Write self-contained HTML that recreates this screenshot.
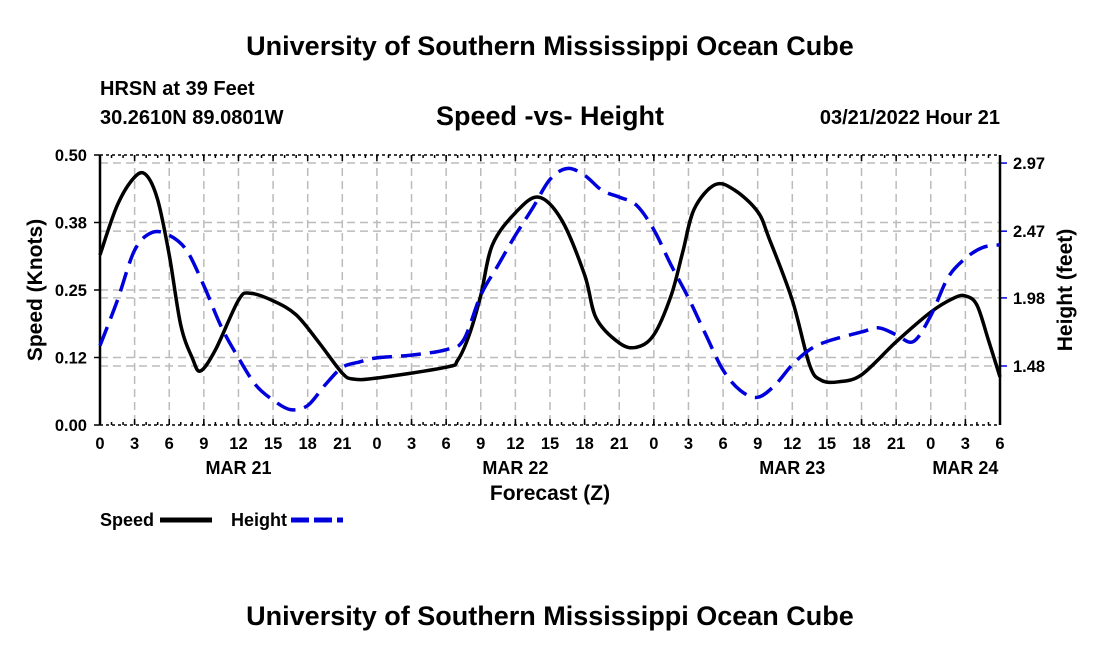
<!DOCTYPE html>
<html><head><meta charset="utf-8"><style>
body{margin:0;background:#fff;font-family:"Liberation Sans",sans-serif}
svg text{font-family:"Liberation Sans",sans-serif;font-weight:bold}
</style></head><body>
<svg id="c" width="1100" height="650" xmlns="http://www.w3.org/2000/svg">
<text x="550" y="55" font-size="27" text-anchor="middle">University of Southern Mississippi Ocean Cube</text>
<text x="100" y="95" font-size="20">HRSN at 39 Feet</text>
<text x="100" y="124" font-size="20">30.2610N  89.0801W</text>
<text x="550" y="125" font-size="27" text-anchor="middle">Speed -vs- Height</text>
<text x="1000" y="124" font-size="20" text-anchor="end">03/21/2022 Hour 21</text>
<g id="grid"></g><g id="axes"></g><g id="series"></g>
<text transform="translate(42,290) rotate(-90)" font-size="21" text-anchor="middle">Speed (Knots)</text>
<text transform="translate(1072,290) rotate(-90)" font-size="21" text-anchor="middle">Height (feet)</text>
<text x="550" y="500" font-size="21" text-anchor="middle">Forecast (Z)</text>
<g>
<text x="100" y="526" font-size="18">Speed</text>
<line x1="160" y1="520" x2="212" y2="520" stroke="#000" stroke-width="5"/>
<text x="231" y="526" font-size="18">Height</text>
<line x1="291" y1="520" x2="343" y2="520" stroke="#0000dd" stroke-width="5" stroke-dasharray="18,5"/>
</g>
<text x="550" y="625" font-size="27" text-anchor="middle">University of Southern Mississippi Ocean Cube</text>
</svg>
<script>
const speedHours=[0,1.5,3,4,5,6,7,8,8.7,10,12,13,15,17,19,21,22,24,30,31,32,33,34,36,38,40,42,43,45,46.5,48,49.5,50.5,51.5,53.3,55,57,58,60,61.5,62.5,64,66,69,72,74,75,76,77,78];
const speedValues=[0.315,0.407,0.459,0.463,0.417,0.315,0.185,0.124,0.10,0.139,0.231,0.244,0.23,0.204,0.152,0.096,0.085,0.087,0.107,0.12,0.167,0.24,0.333,0.393,0.422,0.38,0.278,0.198,0.152,0.144,0.167,0.24,0.32,0.4,0.445,0.435,0.395,0.345,0.231,0.111,0.083,0.08,0.093,0.154,0.209,0.235,0.239,0.222,0.157,0.089];
const heightHours=[0,1.5,3,4.5,6,7.5,9,10.5,12,13.5,15,16.5,18,19.5,21,22.5,24,27,30,31.5,33,34.5,36,37.5,39,40.5,42,43.5,45,46.5,48,49.5,51,52.5,54,55.5,57,58.5,60,61.5,63,66,67.5,69,70.5,72,73.5,75,76.5,78];
const heightValues=[1.63,1.96,2.33,2.46,2.44,2.33,2.07,1.77,1.54,1.34,1.23,1.16,1.19,1.34,1.47,1.51,1.54,1.56,1.60,1.67,2.0,2.22,2.44,2.64,2.85,2.93,2.88,2.77,2.72,2.66,2.48,2.22,1.98,1.71,1.45,1.30,1.25,1.34,1.49,1.60,1.66,1.73,1.76,1.71,1.66,1.85,2.13,2.27,2.35,2.37];
const speedTicks=[0,0.125,0.25,0.375,0.5];
const speedTickLabels=["0.00","0.12","0.25","0.38","0.50"];
const heightTicks=[1.48,1.98,2.47,2.97];
const xTickLabels=["0","3","6","9","12","15","18","21","0","3","6","9","12","15","18","21","0","3","6","9","12","15","18","21","0","3","6"];
const dayLabels=["MAR 21","MAR 22","MAR 23","MAR 24"];
const dayHours=[12,36,60,75];
const X0=100,X1=1000,Y0=425,Y1=155;
const xs=h=>X0+(X1-X0)*h/78;
const ys=v=>Y0-(Y0-Y1)*v/0.5;
const yh=v=>366-(v-1.48)*136.2;
const NS="http://www.w3.org/2000/svg";
function mk(p,t,a){const e=document.createElementNS(NS,t);for(const k in a)e.setAttribute(k,a[k]);p.appendChild(e);return e;}
const grid=document.getElementById('grid'),axes=document.getElementById('axes'),ser=document.getElementById('series');
xTickLabels.forEach((l,i)=>{const x=xs(i*3);
 if(i>0&&i<26){const g=mk(grid,'line',{x1:x,x2:x,y1:Y1,y2:Y0,stroke:'#bbb','stroke-width':1.5,'stroke-dasharray':'8,5'});
 
 }
 const t=mk(axes,'text',{x:x,y:449,'font-size':16.5,'text-anchor':'middle'});t.textContent=l;
 
 
 mk(axes,'line',{x1:x,x2:x,y1:Y0,y2:Y0-6,stroke:'#000','stroke-width':1.5});
 mk(axes,'line',{x1:x,x2:x,y1:Y1,y2:Y1+6,stroke:'#000','stroke-width':1.5});});
dayLabels.forEach((l,i)=>{const t=mk(axes,'text',{x:xs(dayHours[i]),y:474,'font-size':18,'text-anchor':'middle'});t.textContent=l;
 
 });
speedTicks.forEach((v,i)=>{const y=ys(v);
 if(i>0&&i<4){const g=mk(grid,'line',{x1:X0,x2:X1,y1:y,y2:y,stroke:'#bbb','stroke-width':1.5,'stroke-dasharray':'8,5'});
 
 }
 mk(axes,'line',{x1:X0-6,x2:X0,y1:y,y2:y,stroke:'#000','stroke-width':1.5});
 const t=mk(axes,'text',{x:87,y:y+6,'font-size':16.5,'text-anchor':'end'});t.textContent=speedTickLabels[i];
 
 });
heightTicks.forEach(v=>{const y=yh(v);
 const g=mk(grid,'line',{x1:X0,x2:X1,y1:y,y2:y,stroke:'#bbb','stroke-width':1.5,'stroke-dasharray':'8,5'});
 
 
 mk(axes,'line',{x1:X1,x2:X1+7,y1:y,y2:y,stroke:'#0000dd','stroke-width':1.5});
 const t=mk(axes,'text',{x:1013,y:y+6,'font-size':16.5});t.textContent=v.toFixed(2);
 
 });
for(let h=0;h<=78;h++){mk(axes,'line',{x1:xs(h),x2:xs(h),y1:Y0,y2:Y0-3,stroke:'#000','stroke-width':1.5});mk(axes,'line',{x1:xs(h),x2:xs(h),y1:Y1,y2:Y1+3,stroke:'#000','stroke-width':1.5});}
mk(axes,'line',{x1:X0,x2:X1,y1:Y0,y2:Y0,stroke:'#000','stroke-width':1.5,'stroke-dasharray':'3,3'});
mk(axes,'line',{x1:X0,x2:X1,y1:Y1,y2:Y1,stroke:'#000','stroke-width':1.5,'stroke-dasharray':'3,3'});
mk(axes,'line',{x1:X0,x2:X0,y1:Y1,y2:Y0,stroke:'#000','stroke-width':2.5});
mk(axes,'line',{x1:X1,x2:X1,y1:Y1,y2:Y0,stroke:'#000','stroke-width':2.5});
function path(px){let d=`M${px[0][0]},${px[0][1]}`;for(let i=0;i<px.length-1;i++){const p0=px[Math.max(0,i-1)],p1=px[i],p2=px[i+1],p3=px[Math.min(px.length-1,i+2)];
 d+=` C${p1[0]+(p2[0]-p0[0])/6},${p1[1]+(p2[1]-p0[1])/6} ${p2[0]-(p3[0]-p1[0])/6},${p2[1]-(p3[1]-p1[1])/6} ${p2[0]},${p2[1]}`;}return d;}
const sp=mk(ser,'path',{d:path(speedHours.map((h,i)=>[xs(h),ys(speedValues[i])])),fill:'none',stroke:'#000','stroke-width':3.5});


const hp=mk(ser,'path',{d:path(heightHours.map((h,i)=>[xs(h),yh(heightValues[i])])),fill:'none',stroke:'#0000dd','stroke-width':3.5,'stroke-dasharray':'20,9'});


</script>
</body></html>
